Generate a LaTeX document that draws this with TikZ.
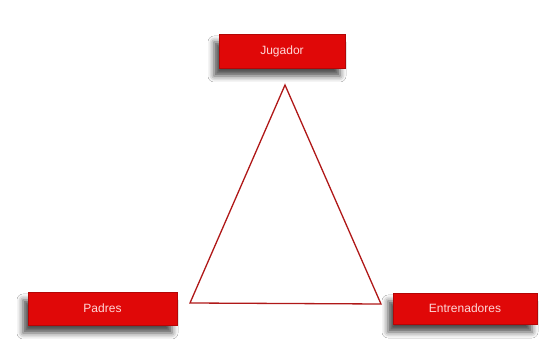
\documentclass[tikz,border=0pt]{standalone}
\usepackage{fontspec}
\setmainfont{Liberation Sans}
\usetikzlibrary{shadows.blur}
\definecolor{boxred}{HTML}{E00808}
\definecolor{linered}{HTML}{B01818}
\definecolor{txtpink}{HTML}{FFD8D8}
\tikzset{
  rolebox/.style={fill=boxred, draw=boxred!80!black, line width=0.4pt, text=txtpink,
    font=\fontsize{12}{14}\selectfont, inner sep=0pt, anchor=center,
    blur shadow={shadow xshift=-5pt, shadow yshift=-8pt, shadow blur radius=6pt, shadow opacity=70}},
  edge/.style={draw=linered, line width=1.3pt, line join=miter}
}
\begin{document}
\begin{tikzpicture}[x=1pt,y=1pt]
\useasboundingbox[fill=white] (0,0) rectangle (545,342);
\node[rolebox, minimum width=126pt, minimum height=34pt] (jug) at (282,291) {Jugador};
\node[rolebox, minimum width=149pt, minimum height=33pt] (pad) at (102.5,33.5) {Padres};
\node[rolebox, minimum width=144pt, minimum height=31pt] (ent) at (465,33.5) {Entrenadores};
\coordinate (top) at (285,257);
\coordinate (left) at (190,39);
\coordinate (right) at (381,38);
\draw[edge] (top) -- (left) -- (right) -- cycle;
\end{tikzpicture}
\end{document}
